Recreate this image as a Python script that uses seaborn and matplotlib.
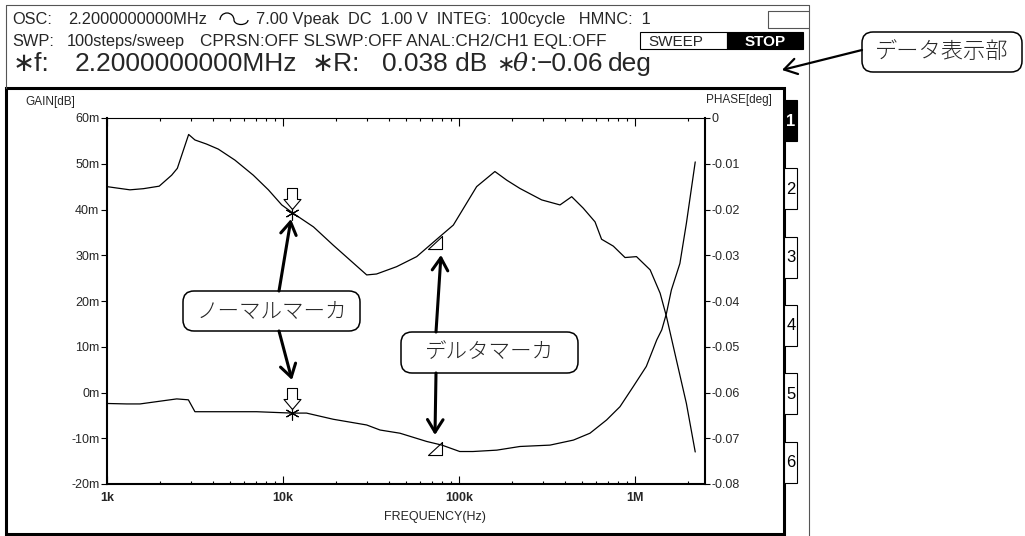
import matplotlib
matplotlib.use("Agg")
import matplotlib.pyplot as plt
import seaborn as sns
from matplotlib.patches import FancyBboxPatch, Rectangle, Arc
from matplotlib.ticker import LogLocator, NullFormatter

# upper trace, GAIN [dB] on the left axis
gain_freq = [1000, 1135, 1350, 1610, 1980, 2330, 2510, 2910, 3160, 3680, 4290,
             5330, 6780, 8260, 9840, 11400, 14900, 19300, 29900, 34000, 44200,
             57500, 78000, 92900, 126000, 160000, 187000, 222000, 295000, 375000,
             437000, 508000, 593000, 646000, 753000, 878000, 1020000, 1220000,
             1390000, 1510000, 1720000, 1960000, 2200000]
gain_db = [0.0450, 0.0447, 0.0443, 0.04455, 0.0451, 0.0475, 0.0490, 0.0564, 0.0552,
           0.0543, 0.0532, 0.0508, 0.0475, 0.0443, 0.0410, 0.0392, 0.0362, 0.0322,
           0.0257, 0.0259, 0.0275, 0.0297, 0.0341, 0.0366, 0.0450, 0.0483, 0.0464,
           0.0446, 0.0421, 0.0410, 0.0428, 0.0403, 0.0373, 0.0335, 0.0320, 0.0295,
           0.0297, 0.0268, 0.0217, 0.0166, 0.0071, -0.0024, -0.0130]

# lower trace, PHASE [deg] on the right axis
phase_freq = [1000, 1295, 1540, 2000, 2490, 2900, 3160, 7080, 11200, 13600, 19300,
              29900, 35600, 46200, 65500, 80000, 101000, 120000, 164000, 222000,
              329000, 447000, 555000, 690000, 822000, 978000, 1160000, 1330000,
              1420000, 1510000, 1610000, 1800000, 1960000, 2200000]
phase_deg = [-0.0624, -0.0625, -0.0625, -0.0619, -0.0614, -0.0616, -0.0642, -0.0642,
             -0.0645, -0.0645, -0.06585, -0.0671, -0.0682, -0.0689, -0.0707, -0.0715,
             -0.0729, -0.0729, -0.0726, -0.0718, -0.0715, -0.0704, -0.0689, -0.0660,
             -0.0631, -0.0587, -0.0543, -0.0485, -0.0463, -0.0427, -0.0376, -0.0318,
             -0.0230, -0.0096]

# markers
normal_freq = 11300
normal_gain = 0.0392
normal_phase = -0.0645
delta_freq = 80500
delta_gain = 0.0341
delta_phase = -0.0709

x_ticks = [1e3, 1e4, 1e5, 1e6]
x_tick_labels = ["1k", "10k", "100k", "1M"]
gain_ticks = [-0.02, -0.01, 0.0, 0.01, 0.02, 0.03, 0.04, 0.05, 0.06]
gain_tick_labels = ["-20m", "-10m", "0m", "10m", "20m", "30m", "40m", "50m", "60m"]
phase_ticks = [-0.08, -0.07, -0.06, -0.05, -0.04, -0.03, -0.02, -0.01, 0.0]
phase_tick_labels = ["-0.08", "-0.07", "-0.06", "-0.05", "-0.04", "-0.03", "-0.02", "-0.01", "0"]

sns.set_theme(style="ticks")
plt.rcParams["font.family"] = ["Liberation Sans", "DejaVu Sans", "Noto Sans CJK JP"]

W, H = 1025, 536
fig = plt.figure(figsize=(W / 100, H / 100), dpi=100)
fig.patch.set_facecolor("white")

ax = fig.add_axes([107 / W, 1 - 484 / H, 598 / W, 366 / H])
ax.set_xscale("log")
ax2 = ax.twinx()

sns.lineplot(x=gain_freq, y=gain_db, ax=ax, color="black", lw=0.9)
sns.lineplot(x=phase_freq, y=phase_deg, ax=ax2, color="black", lw=0.9)

ax.set_xlim(1e3, 2.5e6)
ax.set_ylim(-0.02, 0.06)
ax2.set_ylim(-0.08, 0.0)

# x axis: bold decade labels, inward ticks top and bottom
ax.set_xticks(x_ticks, x_tick_labels, fontweight="bold", fontsize=9)
ax.xaxis.set_minor_locator(LogLocator(base=10, subs=range(2, 10), numticks=20))
ax.xaxis.set_minor_formatter(NullFormatter())
ax.tick_params(axis="x", which="both", direction="in", top=True, bottom=True,
               color="black", width=0.8, pad=6)
ax.tick_params(axis="x", which="major", length=5.5)
ax.tick_params(axis="x", which="minor", length=2.5)

ax.set_yticks(gain_ticks, gain_tick_labels, fontsize=9)
ax.tick_params(axis="y", direction="out", length=4.5, width=0.8, pad=1, left=True,
               color="black")
ax2.set_yticks(phase_ticks, phase_tick_labels, fontsize=9)
ax2.tick_params(axis="y", direction="out", length=3.5, width=0.8, pad=1.5, right=True,
                color="black")

for a in (ax, ax2):
    a.set_xlabel("")
    a.set_ylabel("")
    for s in a.spines.values():
        s.set_color("black")
ax.spines["left"].set_linewidth(1.5)
ax.spines["bottom"].set_linewidth(1.5)
ax.spines["top"].set_linewidth(0.8)
ax.spines["right"].set_visible(False)
ax2.spines["right"].set_linewidth(1.5)
for s in ("left", "top", "bottom"):
    ax2.spines[s].set_visible(False)

# marker symbols
down_arrow = [(0, 4), (8.5, 14), (5, 14), (5, 25), (-5, 25), (-5, 14), (-8.5, 14), (0, 4)]
tri = [(0, 0), (0, -13), (-14, -13), (0, 0)]
ax.plot([normal_freq], [normal_gain], ls="none", marker=(6, 2, 0), ms=10,
        mec="black", mew=0.8, zorder=5)
ax.plot([normal_freq], [normal_gain], ls="none", marker=down_arrow, ms=36,
        mfc="white", mec="black", mew=0.8, zorder=6)
ax.plot([delta_freq], [delta_gain], ls="none", marker=tri, ms=20.2,
        mfc="none", mec="black", mew=0.8, zorder=5)
ax2.plot([normal_freq], [normal_phase], ls="none", marker=(6, 2, 0), ms=10,
         mec="black", mew=0.8, zorder=5)
ax2.plot([normal_freq], [normal_phase], ls="none", marker=down_arrow, ms=36,
         mfc="white", mec="black", mew=0.8, zorder=6)
ax2.plot([delta_freq], [delta_phase], ls="none", marker=tri, ms=20.2,
         mfc="none", mec="black", mew=0.8, zorder=5)

# overlay in pixel coordinates for the instrument screen furniture
ov = fig.add_axes([0, 0, 1, 1], zorder=10)
ov.set_xlim(0, W)
ov.set_ylim(H, 0)
ov.axis("off")

gray = "#555555"
ov.plot([6, 6, 809, 809], [88, 5, 5, 536], color=gray, lw=0.8)
ov.plot([809, 768, 768, 809], [11, 11, 28, 28], color=gray, lw=0.8)
ov.add_patch(Rectangle((6, 88), 778, 446, fill=False, ec="black", lw=2.2))

# SWEEP / STOP
ov.add_patch(Rectangle((640, 32), 87, 17, fc="white", ec="black", lw=0.8))
ov.add_patch(Rectangle((727, 32), 76, 17, fc="black", ec="black", lw=0.8))
ov.text(676, 46, "SWEEP", fontsize=11, ha="center", va="baseline")
ov.text(765, 46, "STOP", fontsize=11, ha="center", va="baseline", color="white",
        fontweight="bold")

# trace tabs
for i in range(6):
    y0 = 100 + i * 68.3
    ov.add_patch(Rectangle((784, y0), 13, 41, fc="black" if i == 0 else "white",
                           ec="black", lw=0.8))
    ov.text(791, y0 + 21, str(i + 1), ha="center", va="center", fontsize=12,
            color="white" if i == 0 else "black", fontweight="bold" if i == 0 else "normal")

# header rows
hdr = 11.8
ov.text(12, 24, "OSC:", fontsize=hdr, ha="left", va="baseline")
ov.text(68, 24, "2.2000000000MHz", fontsize=hdr, ha="left", va="baseline")
ov.text(256, 24, "7.00 Vpeak  DC  1.00 V  INTEG:  100cycle   HMNC:  1",
        fontsize=hdr, ha="left", va="baseline")
# sine-wave glyph of the oscillator line
ov.add_patch(Arc((227, 20), 14, 14, theta1=180, theta2=360, color="black", lw=0.9))
ov.add_patch(Arc((241, 20), 14, 9, theta1=0, theta2=180, color="black", lw=0.9))

ov.text(12, 46, "SWP:", fontsize=hdr, ha="left", va="baseline")
ov.text(67, 46, "100steps/sweep", fontsize=hdr, ha="left", va="baseline")
ov.text(200, 46, "CPRSN:OFF SLSWP:OFF ANAL:CH2/CH1 EQL:OFF", fontsize=12.3,
        ha="left", va="baseline")

row3 = [(13, "\u2217f:"), (75, "2.2000000000MHz"), (312, "\u2217R:"), (382, "0.038 dB"),
        (530, ":"), (537, "\u22120.06"), (608, "deg")]
for x, t in row3:
    ov.text(x, 71, t, fontsize=19, ha="left", va="baseline")
ov.text(496, 71, "\u2217", fontsize=16, ha="left", va="baseline")
ov.text(513, 71, "\u03b8", fontsize=18, ha="left", va="baseline",
        family=["DejaVu Serif"], style="italic")

ov.text(25, 105, "GAIN[dB]", fontsize=8.5, ha="left", va="baseline")
ov.text(772, 103, "PHASE[deg]", fontsize=8.5, ha="right", va="baseline")
ov.text(435, 520, "FREQUENCY(Hz)", fontsize=9, ha="center", va="baseline")

# callouts
cjk = ["Noto Sans CJK JP"]


def callout(x0, y0, w, h, text, fs):
    ov.add_patch(FancyBboxPatch((x0, y0), w, h, boxstyle="round,pad=0,rounding_size=11",
                                fc="white", ec="black", lw=1.1))
    ov.text(x0 + w / 2, y0 + h / 2, text, ha="center", va="center", fontsize=fs,
            family=cjk, fontweight="light")


def arrow(tail, tip, lw=2.2):
    ov.annotate("", xy=tip, xytext=tail,
                arrowprops=dict(arrowstyle="->,head_length=0.45,head_width=0.28",
                                lw=lw, color="black", shrinkA=0, shrinkB=0,
                                mutation_scale=20))


callout(183, 291, 177, 40, "ノーマルマーカ", 15.5)
callout(401, 332, 177, 41, "デルタマーカ", 15.5)
callout(862, 32, 160, 40, "データ表示部", 16)

arrow((279, 291), (291, 219))
arrow((279, 331), (292, 380))
arrow((436, 332), (441, 255))
arrow((436, 373), (435, 435))
arrow((862, 50), (782, 70), lw=1.6)

fig.savefig("out.png", dpi=100, facecolor="white")
